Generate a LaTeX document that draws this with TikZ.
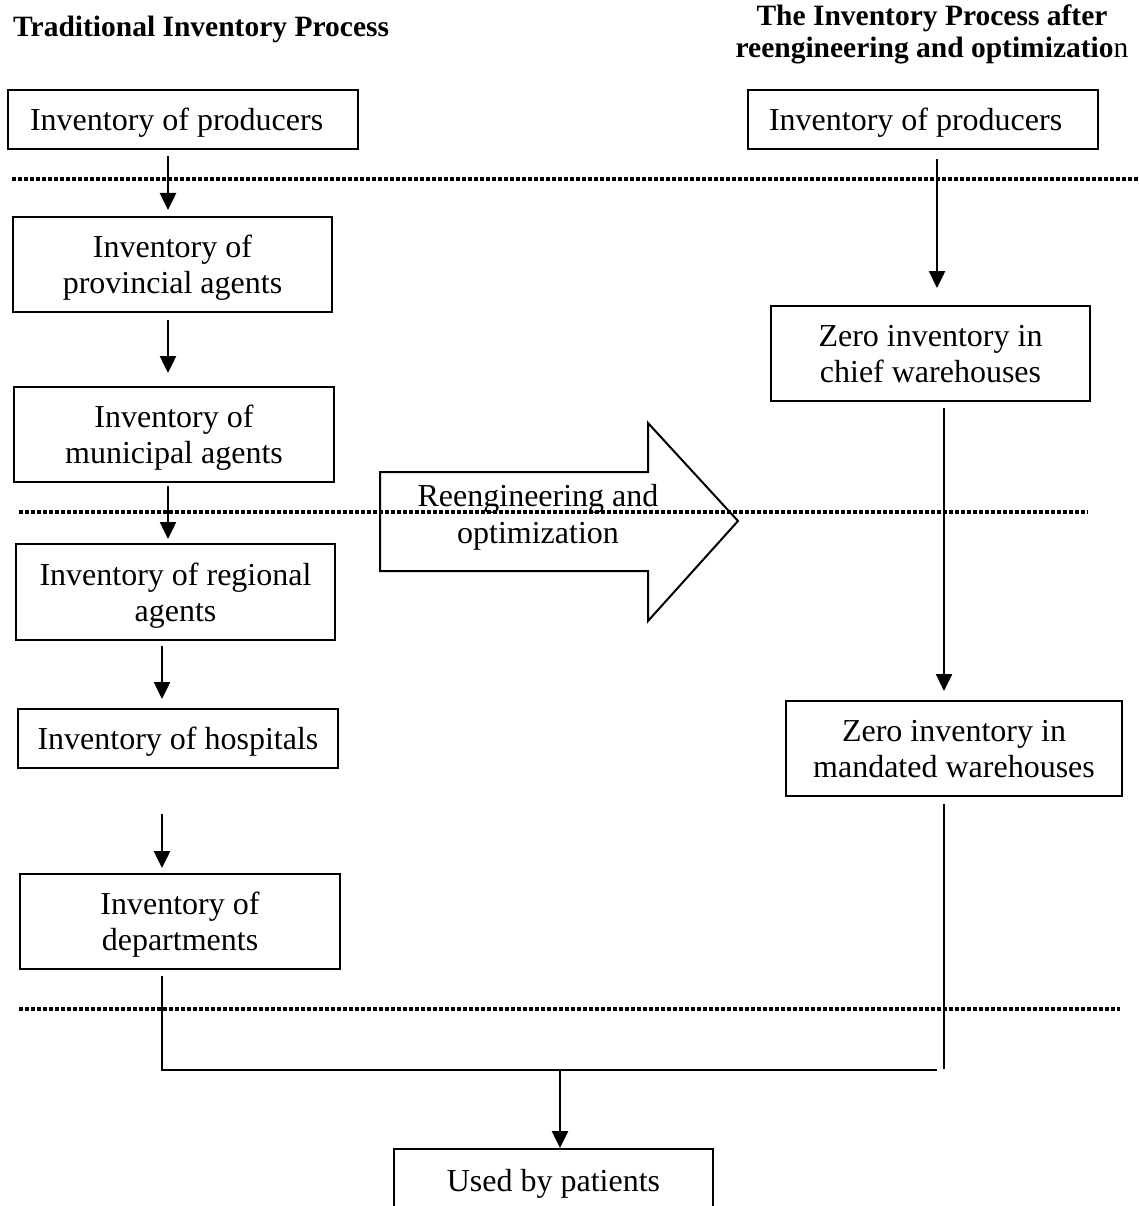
\documentclass[tikz,border=0pt]{standalone}
\usepackage{fontspec}
\setmainfont{Liberation Serif}
\usetikzlibrary{arrows.meta}
\begin{document}
\begin{tikzpicture}[x=1pt,y=-1pt,
  box/.style={draw, line width=2pt, inner sep=0pt, align=center,
    font=\fontsize{32}{36}\selectfont, text depth=0pt},
  hdr/.style={inner sep=0pt, font=\bfseries\fontsize{29.5}{32}\selectfont},
  arr/.style={line width=2.5pt, -{Triangle[width=16pt,length=17pt]}},
  conn/.style={line width=2pt},
  dotline/.style={line width=3.5pt, dash pattern=on 3.5pt off 2.5pt},
  bigarrow/.style={line width=2pt, line join=miter}]
\clip (0,0) rectangle (1138,1206);
\fill[white] (0,0) rectangle (1138,1206);

% column headings
\node[hdr, anchor=base west] (th) at (13,37) {Traditional Inventory Process};
\node[hdr, align=center, text depth=0pt] (rh) at (932,31.5)
  {The Inventory Process after\\reengineering and optimizatio\textmd{n}};

% traditional chain
\node[box, align=flush left, text width=306pt, inner xsep=22pt, minimum height=59pt] (b1) at (183,119.5) {Inventory of producers};
\node[box, minimum width=319pt, minimum height=95pt] (b2) at (172.5,264.5) {Inventory of\\provincial agents};
\node[box, minimum width=320pt, minimum height=95pt] (b3) at (174,434.5) {Inventory of\\municipal agents};
\node[box, minimum width=319pt, minimum height=96pt] (b4) at (175.5,592) {Inventory of regional\\agents};
\node[box, minimum width=320pt, minimum height=59pt] (b5) at (178,738.5) {Inventory of hospitals};
\node[box, minimum width=320pt, minimum height=95pt] (b6) at (180,921.5) {Inventory of\\departments};

% reengineered chain
\node[box, align=flush left, text width=308pt, inner xsep=21pt, minimum height=59pt] (r1) at (923,119.5) {Inventory of producers};
\node[box, minimum width=319pt, minimum height=95pt] (r2) at (930.5,353.5) {Zero inventory in\\chief warehouses};
\node[box, minimum width=336pt, minimum height=95pt] (r3) at (954,748.5) {Zero inventory in\\mandated warehouses};

% final consumer
\node[box, minimum width=319pt, minimum height=62pt] (up) at (553.5,1180) {Used by patients};

% transformation arrow
\draw[bigarrow] (380,472) -- (648,472) -- (648,423) -- (738,521) -- (648,621) -- (648,571) -- (380,571) -- cycle;
\node[inner sep=0pt, align=center, font=\fontsize{32}{37}\selectfont, text depth=0pt] (reo) at (538,513.5)
  {Reengineering and\\optimization};

% level separators
\draw[dotline] (12,179) -- (1138,179);
\draw[dotline] (19,512) -- (1088,512);
\draw[dotline] (19,1009) -- (1120,1009);

% arrow columns
\coordinate (xa) at (168,0);
\coordinate (xb) at (162,0);
\coordinate (xc) at (937,0);
\coordinate (xd) at (944,0);
\draw[arr, shorten <=6pt, shorten >=6pt] (b1.south -| xa) -- (b2.north -| xa);
\draw[arr, shorten <=7pt, shorten >=13pt] (b2.south -| xa) -- (b3.north -| xa);
\draw[arr, shorten <=3pt, shorten >=4pt] (b3.south -| xa) -- (b4.north -| xa);
\draw[arr, shorten <=5pt, shorten >=9pt] (b4.south -| xb) -- (b5.north -| xb);
\draw[arr, shorten <=45pt, shorten >=5pt] (b5.south -| xb) -- (b6.north -| xb);
\draw[arr, shorten <=9pt, shorten >=17pt] (r1.south -| xc) -- (r2.north -| xc);
\draw[arr, shorten <=6pt, shorten >=9pt] (r2.south -| xd) -- (r3.north -| xd);

% merging into consumption
\coordinate (jl) at (162,1070);
\coordinate (jr) at (937,1070);
\coordinate (jd) at (944,1069);
\coordinate (jm) at (560,1070);
\draw[conn, shorten <=6pt] (b6.south -| jl) -- (jl) -- (jr);
\draw[conn, shorten <=7pt] (r3.south -| jd) -- (jd);
\draw[arr] (jm) -- (up.north -| jm);
\end{tikzpicture}
\end{document}
